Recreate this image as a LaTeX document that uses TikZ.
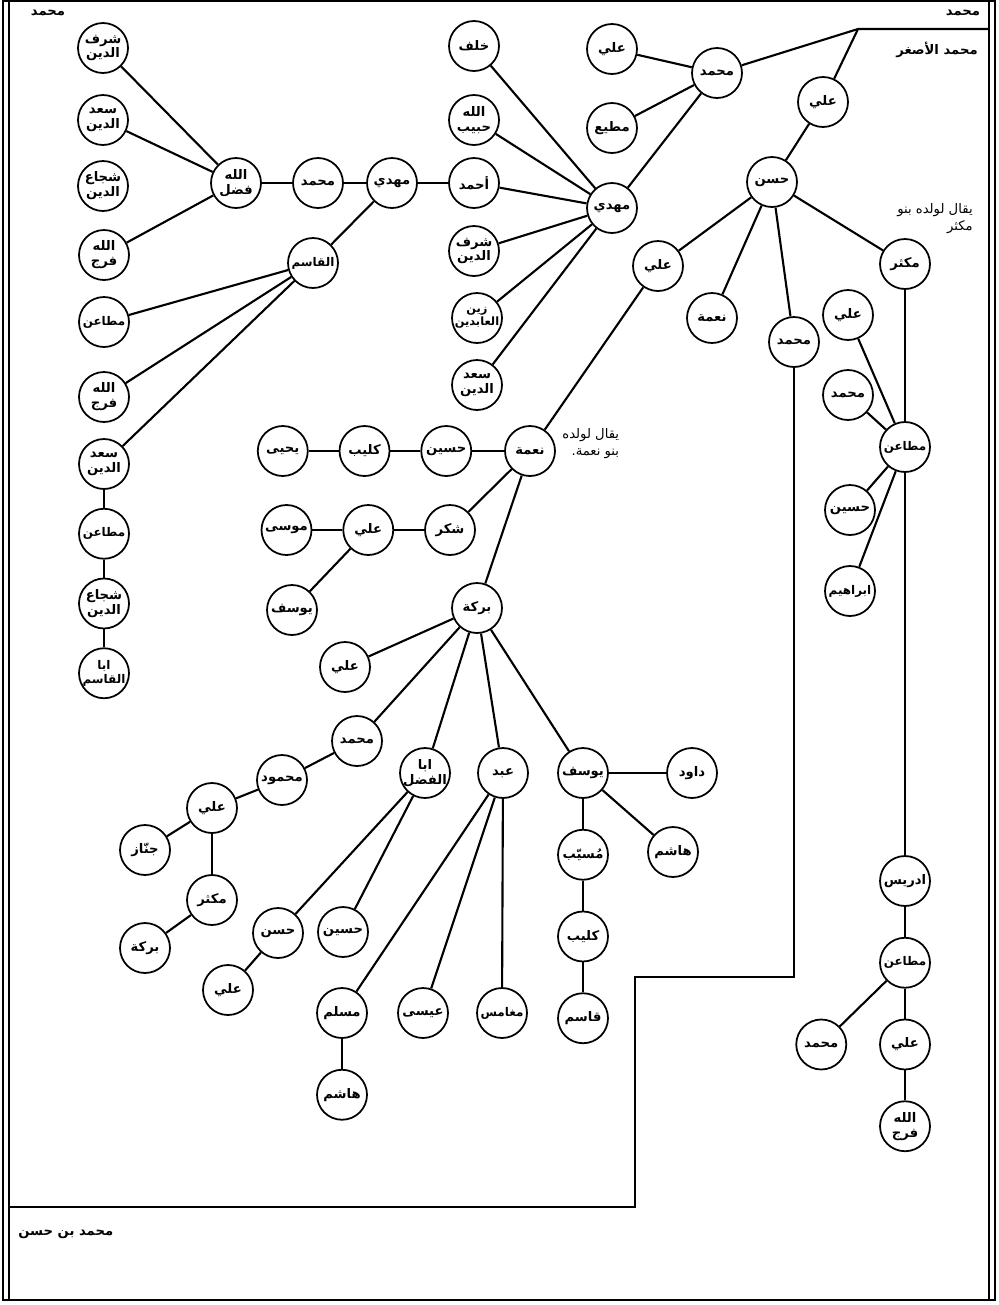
\documentclass[tikz,border=0pt]{standalone}
\usepackage{fontspec}
\newfontfamily\arabicfont[Script=Arabic]{DejaVu Sans}
\TeXXeTstate=1
\usepackage{tikz}
\usetikzlibrary{positioning}
\newcommand{\ar}[1]{\beginR #1\endR}
\newcommand{\nm}[1]{\makebox[0pt]{\beginR #1\endR}}
\newcommand{\two}[2]{\nm{#1}\\\nm{#2}}
\tikzset{
  person/.style={circle, draw=black, line width=1pt, minimum size=1cm, inner sep=0pt,
                 align=center, font=\arabicfont\bfseries\fontsize{7.5}{8.5}\selectfont},
  smallperson/.style={person, font=\arabicfont\bfseries\fontsize{6.5}{7.5}\selectfont},
  longperson/.style={person, font=\arabicfont\bfseries\fontsize{6.8}{8}\selectfont},
  link/.style={line width=1.2pt, draw=black},
  note/.style={font=\arabicfont\fontsize{7.5}{10}\selectfont, align=right, inner sep=0pt},
  boldnote/.style={note, font=\arabicfont\bfseries\fontsize{7.5}{10}\selectfont},
  border/.style={line width=1.2pt},
  thinborder/.style={line width=0.6pt},
}
\begin{document}
\begin{tikzpicture}[x=0.02cm, y=-0.02cm, node distance=0.36cm]
  \useasboundingbox (0,0) rectangle (998,1305);

  %% ---- FRAME ----
  \draw[border] (3,1) rectangle (995,1300);
  \draw[thinborder] (9,1) -- (9,1300);
  \draw[thinborder] (989,1) -- (989,1300);
  \node[boldnote] (topleft) at (48,13) {\ar{محمد}};
  \node[boldnote] (topright) at (963,13) {\ar{محمد}};
  \node[boldnote] (asghar) at (937,50) {\ar{محمد الأصغر}};
  \node[boldnote, anchor=west] (ibnhasan) at (18,1234) {\ar{محمد بن حسن}};

  %% ---- LEFT BRANCH ----
  \node[person] (sharaf1) at (103,48) {\two{شرف}{الدين}};
  \node[person] (saad1) at (103,120) {\two{سعد}{الدين}};
  \node[person] (shuja1) at (103,186) {\two{شجاع}{الدين}};
  \node[person] (faraj1) at (104,255) {\two{الله}{فرج}};
  \node[person] (fadl) at (236,183) {\two{الله}{فضل}};
  \node[person] (muh1) at (318,183) {\nm{محمد}};
  \node[person] (mahdi1) at (392,183) {\nm{مهدي}};
  \node[longperson] (qasim1) at (313,263) {\nm{القاسم}};
  \node[longperson] (mutaan1) at (104,322) {\nm{مطاعن}};
  \node[person] (faraj2) at (104,397) {\two{الله}{فرج}};
  \node[person] (saad2) at (104,464) {\two{سعد}{الدين}};
  \node[longperson, below=of saad2] (mutaan2) {\nm{مطاعن}};
  \node[person, below=of mutaan2] (shuja2) {\two{شجاع}{الدين}};
  \node[longperson, below=of shuja2] (abaqasim) {\two{ابا}{القاسم}};

  \draw[link] (fadl) -- (sharaf1);
  \draw[link] (fadl) -- (saad1);
  \draw[link] (fadl) -- (faraj1);
  \draw[link] (fadl) -- (muh1);
  \draw[link] (muh1) -- (mahdi1);
  \draw[link] (mahdi1) -- (qasim1);
  \draw[link] (qasim1) -- (mutaan1);
  \draw[link] (qasim1) -- (faraj2);
  \draw[link] (qasim1) -- (saad2);
  \draw[link] (saad2) -- (mutaan2);
  \draw[link] (mutaan2) -- (shuja2);
  \draw[link] (shuja2) -- (abaqasim);

  %% ---- MAHDI ----
  \node[person] (khalaf) at (474,46) {\nm{خلف}};
  \node[person] (habib) at (474,120) {\two{الله}{حبيب}};
  \node[person] (ahmad) at (474,183) {\nm{أحمد}};
  \node[person] (sharaf2) at (474,251) {\two{شرف}{الدين}};
  \node[smallperson] (zain) at (477,318) {\two{زين}{العابدين}};
  \node[person] (saad3) at (477,385) {\two{سعد}{الدين}};
  \node[person] (mahdi2) at (612,208) {\nm{مهدي}};
  \node[person] (ali1) at (612,49) {\nm{علي}};
  \node[person] (mutee) at (612,128) {\nm{مطيع}};
  \node[person] (muh2) at (717,73) {\nm{محمد}};

  \draw[link] (mahdi1) -- (ahmad);
  \draw[link] (ahmad) -- (mahdi2);
  \draw[link] (mahdi2) -- (khalaf);
  \draw[link] (mahdi2) -- (habib);
  \draw[link] (mahdi2) -- (sharaf2);
  \draw[link] (mahdi2) -- (zain);
  \draw[link] (mahdi2) -- (saad3);
  \draw[link] (mahdi2) -- (muh2);
  \draw[link] (muh2) -- (ali1);
  \draw[link] (muh2) -- (mutee);

  %% ---- HASAN ----
  \coordinate (junction) at (858,29);
  \coordinate (rightend) at (989,29);
  \node[person] (ali2) at (823,102) {\nm{علي}};
  \node[person] (hasan1) at (772,182) {\nm{حسن}};
  \node[person] (ali3) at (658,266) {\nm{علي}};
  \node[person] (nima1) at (712,318) {\nm{نعمة}};
  \node[person] (muh3) at (794,342) {\nm{محمد}};
  \node[person] (mukthir1) at (905,264) {\nm{مكثر}};
  \node[note, anchor=north east] (mukthirnote) at (973,203) {\ar{يقال لولده بنو}\\\ar{مكثر}};

  \draw[link] (muh2) -- (junction) -- (rightend);
  \draw[link] (junction) -- (ali2);
  \draw[link] (ali2) -- (hasan1);
  \draw[link] (hasan1) -- (ali3);
  \draw[link] (hasan1) -- (nima1);
  \draw[link] (hasan1) -- (muh3);
  \draw[link] (hasan1) -- (mukthir1);

  %% ---- MUKTHIR ----
  \node[person] (ali4) at (848,315) {\nm{علي}};
  \node[person] (muh4) at (848,395) {\nm{محمد}};
  \node[longperson] (mutaan3) at (905,447) {\nm{مطاعن}};
  \node[person] (husain1) at (850,510) {\nm{حسين}};
  \node[longperson] (ibrahim) at (850,591) {\nm{ابراهيم}};
  \node[person] (idris) at (905,881) {\nm{ادريس}};
  \node[longperson, below=0.6cm of idris] (mutaan4) {\nm{مطاعن}};
  \node[person, below=0.6cm of mutaan4] (ali5) {\nm{علي}};
  \node[person, left=0.64cm of ali5] (muh5) {\nm{محمد}};
  \node[person, below=0.6cm of ali5] (faraj3) {\two{الله}{فرج}};

  \draw[link] (mukthir1) -- (mutaan3);
  \draw[link] (mutaan3) -- (ali4);
  \draw[link] (mutaan3) -- (muh4);
  \draw[link] (mutaan3) -- (husain1);
  \draw[link] (mutaan3) -- (ibrahim);
  \draw[link] (mutaan3) -- (idris);
  \draw[link] (idris) -- (mutaan4);
  \draw[link] (mutaan4) -- (muh5);
  \draw[link] (mutaan4) -- (ali5);
  \draw[link] (ali5) -- (faraj3);

  %% ---- NIMA ----
  \node[person] (nima2) at (530,451) {\nm{نعمة}};
  \node[person, left=0.64cm of nima2] (husain2) {\nm{حسين}};
  \node[person, left=0.6cm of husain2] (kulaib1) {\nm{كليب}};
  \node[person, left=0.6cm of kulaib1] (yahya) {\nm{يحيى}};
  \node[person] (shukr) at (450,530) {\nm{شكر}};
  \node[person, left=0.6cm of shukr] (ali6) {\nm{علي}};
  \node[person, left=0.6cm of ali6] (musa) {\nm{موسى}};
  \node[person] (yusuf1) at (292,610) {\nm{يوسف}};
  \node[note, anchor=north west] (nimanote) at (562,428) {\ar{يقال لولده}\\\ar{بنو نعمة.}};

  \draw[link] (ali3) -- (nima2);
  \draw[link] (nima2) -- (husain2);
  \draw[link] (husain2) -- (kulaib1);
  \draw[link] (kulaib1) -- (yahya);
  \draw[link] (nima2) -- (shukr);
  \draw[link] (shukr) -- (ali6);
  \draw[link] (ali6) -- (musa);
  \draw[link] (ali6) -- (yusuf1);

  %% ---- BARAKA ----
  \node[person] (baraka1) at (477,608) {\nm{بركة}};
  \node[person] (ali7) at (345,667) {\nm{علي}};
  \node[person] (muh6) at (357,741) {\nm{محمد}};
  \node[person] (mahmud) at (282,780) {\nm{محمود}};
  \node[person] (ali8) at (212,808) {\nm{علي}};
  \node[person] (jannaz) at (145,850) {\nm{جنّاز}};
  \node[person] (mukthir2) at (212,900) {\nm{مكثر}};
  \node[person] (baraka2) at (145,948) {\nm{بركة}};
  \node[person] (abafadl) at (425,773) {\two{ابا}{الفضل}};
  \node[person] (hasan2) at (278,933) {\nm{حسن}};
  \node[person] (ali9) at (228,990) {\nm{علي}};
  \node[person] (husain3) at (343,932) {\nm{حسين}};

  \draw[link] (nima2) -- (baraka1);
  \draw[link] (baraka1) -- (ali7);
  \draw[link] (baraka1) -- (muh6);
  \draw[link] (muh6) -- (mahmud);
  \draw[link] (mahmud) -- (ali8);
  \draw[link] (ali8) -- (jannaz);
  \draw[link] (ali8) -- (mukthir2);
  \draw[link] (mukthir2) -- (baraka2);
  \draw[link] (baraka1) -- (abafadl);
  \draw[link] (abafadl) -- (hasan2);
  \draw[link] (hasan2) -- (ali9);
  \draw[link] (abafadl) -- (husain3);

  %% ---- ABD AND YUSUF ----
  \node[person] (abd) at (503,773) {\nm{عبد}};
  \node[person] (muslim) at (342,1013) {\nm{مسلم}};
  \node[person, below=0.6cm of muslim] (hashim2) {\nm{هاشم}};
  \node[person] (isa) at (423,1013) {\nm{عيسى}};
  \node[longperson] (mughamis) at (502,1013) {\nm{مغامس}};
  \node[person] (yusuf2) at (583,773) {\nm{يوسف}};
  \node[person] (dawud) at (692,773) {\nm{داود}};
  \node[person] (hashim1) at (673,852) {\nm{هاشم}};
  \node[person, below=0.6cm of yusuf2] (musayyib) {\nm{مُسيّب}};
  \node[person, below=0.6cm of musayyib] (kulaib2) {\nm{كليب}};
  \node[person, below=0.6cm of kulaib2] (qasim2) {\nm{قاسم}};

  \draw[link] (baraka1) -- (abd);
  \draw[link] (abd) -- (muslim);
  \draw[link] (muslim) -- (hashim2);
  \draw[link] (abd) -- (isa);
  \draw[link] (abd) -- (mughamis);
  \draw[link] (baraka1) -- (yusuf2);
  \draw[link] (yusuf2) -- (dawud);
  \draw[link] (yusuf2) -- (hashim1);
  \draw[link] (yusuf2) -- (musayyib);
  \draw[link] (musayyib) -- (kulaib2);
  \draw[link] (kulaib2) -- (qasim2);

  %% ---- BOUNDARY ----
  \coordinate (stepa) at (794,977);
  \coordinate (stepb) at (635,977);
  \coordinate (stepc) at (635,1207);
  \coordinate (stepd) at (9,1207);
  \draw[link] (muh3) -- (stepa) -- (stepb) -- (stepc) -- (stepd);

\end{tikzpicture}
\end{document}
